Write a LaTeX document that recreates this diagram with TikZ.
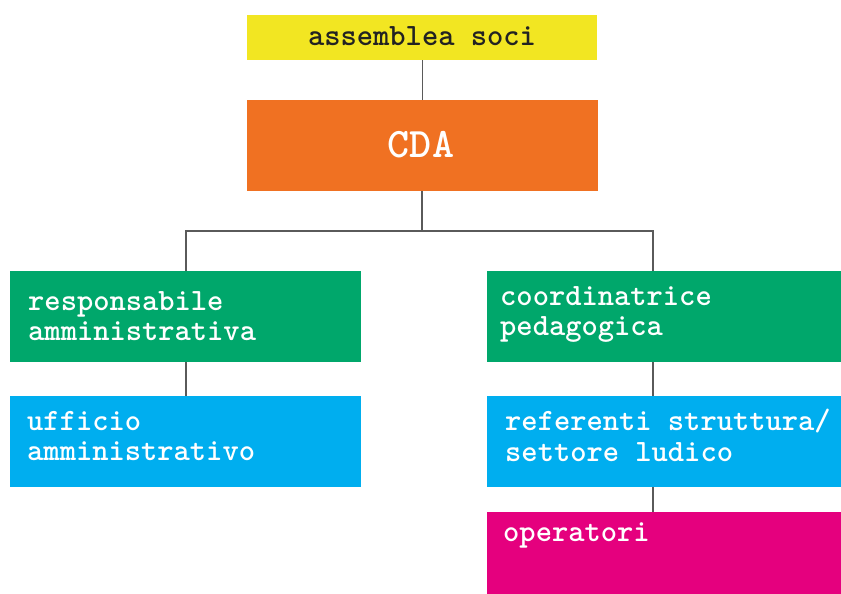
\documentclass[tikz,border=0pt]{standalone}
\definecolor{cyellow}{HTML}{F2E622}
\definecolor{corange}{HTML}{F07122}
\definecolor{cgreen}{HTML}{00A76B}
\definecolor{cblue}{HTML}{00AEEF}
\definecolor{cpink}{HTML}{E5007E}
\definecolor{cline}{HTML}{5A5A5A}
\definecolor{ctext}{HTML}{222222}
\begin{document}
\begin{tikzpicture}[x=1pt,y=-1pt,
  box/.style={draw=none,inner sep=0pt,anchor=north west},
  lbl/.style={anchor=base west,inner sep=0pt,text=white,font=\ttfamily\bfseries\fontsize{31}{30.5}\selectfont,align=left},
  conn/.style={draw=cline,line width=1.2pt}]
\useasboundingbox (0,0) rectangle (841,594);
% boxes
\node[box,fill=cyellow,minimum width=350pt,minimum height=45pt] (soci) at (247,15) {};
\node[box,fill=corange,minimum width=351pt,minimum height=91pt] (cda) at (247,100) {};
\node[box,fill=cgreen,minimum width=351pt,minimum height=91pt] (resp) at (10,271) {};
\node[box,fill=cblue,minimum width=351pt,minimum height=91pt] (uff) at (10,396) {};
\node[box,fill=cgreen,minimum width=360pt,minimum height=91pt] (coord) at (487,271) {};
\node[box,fill=cblue,minimum width=360pt,minimum height=91pt] (ref) at (487,396) {};
\node[box,fill=cpink,minimum width=360pt,minimum height=90pt] (oper) at (487,512) {};
% texts
\node[anchor=base,inner sep=0pt,text=ctext,font=\ttfamily\bfseries\fontsize{31}{31}\selectfont] (tsoci) at (422,46) {assemblea soci};
\node[anchor=base,inner sep=0pt,text=white,font=\ttfamily\bfseries\fontsize{42}{42}\selectfont] (tcda) at (421,157) {CDA};
\node[lbl] (tresp) at (28,340.5) {responsabile\\amministrativa};
\node[lbl] (tuff) at (27,460.5) {ufficio\\amministrativo};
\node[lbl] (tcoord) at (500,335.5) {coordinatrice\\pedagogica};
\node[lbl] (tref) at (505,461) {referenti struttura/\\settore ludico};
\node[lbl] (toper) at (503,541.5) {operatori};
% connectors
\coordinate (jl) at (186,231);
\coordinate (jr) at (653,231);
\coordinate (jm) at (422,231);
\draw[conn] (soci.south) -- (soci.south |- cda.north);
\draw[conn] (jm |- cda.south) -- (jm);
\draw[conn] (jl |- resp.north) -- (jl) -- (jr) -- (jr |- coord.north);
\draw[conn] (jl |- resp.south) -- (jl |- uff.north);
\draw[conn] (jr |- coord.south) -- (jr |- ref.north);
\draw[conn] (jr |- ref.south) -- (jr |- oper.north);
\end{tikzpicture}
\end{document}
